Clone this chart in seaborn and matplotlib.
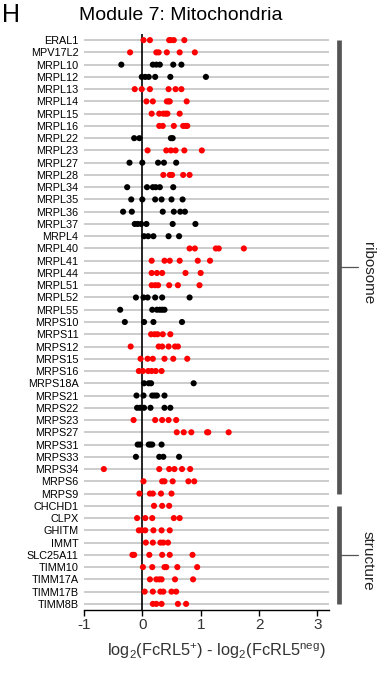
import numpy as np
import pandas as pd
import matplotlib
matplotlib.use("Agg")
import matplotlib.pyplot as plt
import matplotlib.transforms as mtransforms
import seaborn as sns

genes = ["ERAL1", "MPV17L2", "MRPL10", "MRPL12", "MRPL13", "MRPL14", "MRPL15", "MRPL16",
         "MRPL22", "MRPL23", "MRPL27", "MRPL28", "MRPL34", "MRPL35", "MRPL36", "MRPL37",
         "MRPL4", "MRPL40", "MRPL41", "MRPL44", "MRPL51", "MRPL52", "MRPL55", "MRPS10",
         "MRPS11", "MRPS12", "MRPS15", "MRPS16", "MRPS18A", "MRPS21", "MRPS22", "MRPS23",
         "MRPS27", "MRPS31", "MRPS33", "MRPS34", "MRPS6", "MRPS9",
         "CHCHD1", "CLPX", "GHITM", "IMMT", "SLC25A11", "TIMM10", "TIMM17A", "TIMM17B", "TIMM8B"]

significant = [True, True, False, False, True, True, True, True,
               False, True, False, True, False, False, False, False,
               False, True, True, True, True, False, False, False,
               True, True, True, True, False, False, False, True,
               True, False, False, True, True, True,
               True, True, True, True, True, True, True, True, True]

values = [
    [0.02, 0.13, 0.46, 0.49, 0.54, 0.72],
    [-0.21, 0.24, 0.28, 0.42, 0.64, 0.90],
    [-0.36, 0.18, 0.24, 0.30, 0.53, 0.67],
    [-0.01, 0.05, 0.11, 0.22, 0.48, 1.09],
    [-0.13, -0.01, 0.13, 0.45, 0.57, 0.67],
    [0.07, 0.18, 0.42, 0.45, 0.47, 0.76],
    [0.16, 0.29, 0.36, 0.40, 0.43, 0.64],
    [0.29, 0.35, 0.54, 0.70, 0.74, 0.77],
    [-0.14, -0.05, 0.49, 0.52],
    [0.09, 0.41, 0.49, 0.57, 0.72, 1.02],
    [-0.22, 0.0, 0.27, 0.37, 0.58],
    [0.36, 0.47, 0.51, 0.70, 0.81],
    [-0.26, 0.08, 0.18, 0.23, 0.30, 0.53],
    [-0.19, 0.0, 0.22, 0.33, 0.50, 0.69],
    [-0.33, -0.18, 0.35, 0.54, 0.65, 0.73],
    [-0.13, -0.08, -0.02, 0.07, 0.52, 0.91],
    [0.03, 0.10, 0.19, 0.45, 0.63],
    [0.81, 0.90, 1.26, 1.31, 1.74],
    [0.16, 0.38, 0.47, 0.64, 0.95, 1.16],
    [0.16, 0.25, 0.34, 0.74, 1.00],
    [0.16, 0.22, 0.27, 0.46, 0.61, 0.98],
    [-0.11, 0.02, 0.09, 0.22, 0.34, 0.81],
    [-0.38, 0.17, 0.25, 0.30, 0.34, 0.38],
    [-0.30, 0.03, 0.19, 0.68],
    [0.15, 0.21, 0.26, 0.35, 0.48],
    [-0.20, 0.28, 0.34, 0.45, 0.56, 0.61],
    [-0.03, 0.09, 0.18, 0.38, 0.53, 0.77],
    [-0.06, 0.01, 0.10, 0.16, 0.23, 0.33],
    [0.03, 0.11, 0.15, 0.88],
    [-0.10, 0.02, 0.17, 0.21, 0.25, 0.38],
    [-0.09, -0.04, 0.03, 0.14, 0.38, 0.48],
    [-0.15, 0.22, 0.34, 0.45, 0.58],
    [0.59, 0.71, 0.84, 1.11, 1.13, 1.48],
    [-0.08, -0.04, 0.11, 0.14, 0.17, 0.33],
    [-0.11, 0.29, 0.36, 0.63],
    [-0.66, 0.29, 0.46, 0.55, 0.68, 0.82],
    [0.02, 0.34, 0.38, 0.52, 0.79, 0.89],
    [-0.05, 0.13, 0.18, 0.32, 0.50],
    [0.20, 0.34, 0.46],
    [-0.09, 0.05, 0.17, 0.54, 0.64],
    [-0.06, -0.01, 0.05, 0.19, 0.33, 0.47],
    [0.06, 0.18, 0.31, 0.36, 0.44],
    [-0.17, -0.14, 0.12, 0.34, 0.47, 0.86],
    [0.01, 0.17, 0.38, 0.41, 0.60, 0.94],
    [0.13, 0.24, 0.29, 0.33, 0.56, 0.87],
    [0.04, 0.18, 0.31, 0.36, 0.50, 0.58],
    [0.18, 0.24, 0.33, 0.61, 0.75],
]

groups = ["ribosome", "structure"]
group_sizes = [38, 9]

xticks = [-1, 0, 1, 2, 3]

rows = []
for g, sig, vals in zip(genes, significant, values):
    for v in vals:
        rows.append({"gene": g, "value": v, "sig": "yes" if sig else "no"})
df = pd.DataFrame(rows)

sns.set_theme(style="white")
plt.rcParams["font.family"] = ["Liberation Sans", "DejaVu Sans"]
plt.rcParams["mathtext.fontset"] = "custom"
plt.rcParams["mathtext.rm"] = "Liberation Sans"
plt.rcParams["mathtext.it"] = "Liberation Sans:italic"

fig = plt.figure(figsize=(3.77, 6.77), dpi=100)
ax = fig.add_axes([84 / 377, 1 - 610 / 677, (329 - 84) / 377, (610 - 34) / 677])

sns.stripplot(data=df, x="value", y="gene", hue="sig", order=genes,
              palette={"yes": "#ff0000", "no": "black"}, jitter=False,
              size=4.4, linewidth=0, orient="h", legend=False, ax=ax, zorder=3)

ax.set_xlim(-1, 3.2)
ax.set_ylim(len(genes) - 0.5, -0.5)
ax.yaxis.grid(True, color="#c8c8c8", lw=1.3, zorder=0)
ax.xaxis.grid(False)
ax.set_axisbelow(True)
ax.axvline(0, color="black", lw=1.2, zorder=2)

for side in ["left", "right", "top"]:
    ax.spines[side].set_visible(False)
ax.spines["bottom"].set_color("black")
ax.spines["bottom"].set_linewidth(1.0)
ax.set_xticks(xticks)
ax.set_xticklabels([str(t) for t in xticks], fontsize=11, color="#333333")
ax.tick_params(axis="x", bottom=True, length=4, width=1.0, color="black", pad=2)
ax.tick_params(axis="y", left=False, length=0, pad=4, labelsize=7.8)
for lab in ax.get_yticklabels():
    lab.set_color("black")
ax.set_ylabel("")
ax.set_xlabel(r"log$_2$(FcRL5$^{+}$) - log$_2$(FcRL5$^{\mathrm{neg}}$)",
              fontsize=11.8, color="#333333")
ax.xaxis.set_label_coords(0.54, -0.055)

# group brackets on the right
trans = mtransforms.blended_transform_factory(ax.transAxes, ax.transData)
start = 0
for name, n in zip(groups, group_sizes):
    y0, y1 = start, start + n - 1
    ax.plot([1.041, 1.041], [y0, y1], transform=trans, color="#555555",
            lw=3.4, solid_capstyle="butt", clip_on=False)
    mid = (y0 + y1) / 2
    ax.plot([1.041, 1.118], [mid, mid], transform=trans, color="#555555",
            lw=0.9, clip_on=False)
    ax.text(1.158, mid + 0.5, name, transform=trans, rotation=270,
            ha="center", va="center", fontsize=11, color="#222222")
    start += n

fig.text(181 / 377, 1 - 16 / 677, "Module 7: Mitochondria", ha="center", va="center",
         fontsize=14, color="black")
fig.text(2 / 377, 1 - 15 / 677, "H", ha="left", va="center", fontsize=18, color="black")

fig.savefig("out.png", dpi=100)
